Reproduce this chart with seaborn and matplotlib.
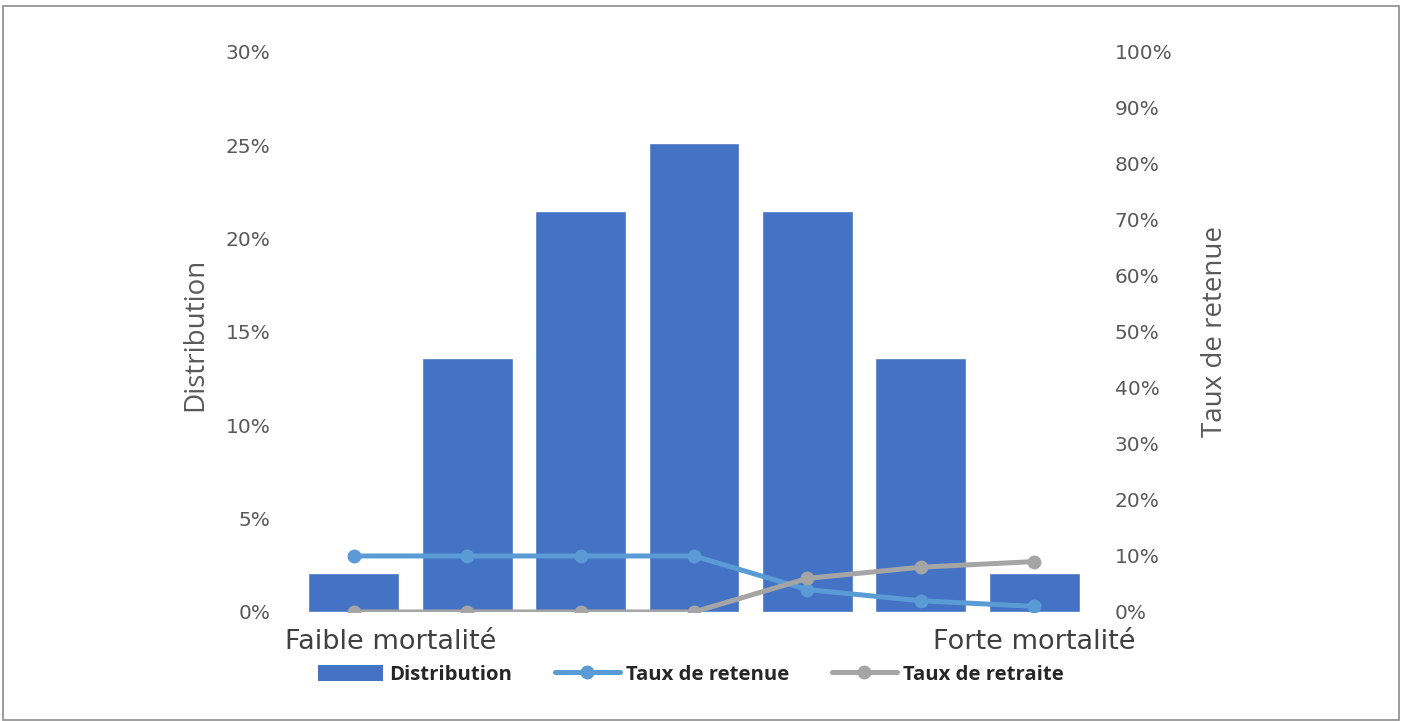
import matplotlib
matplotlib.use("Agg")
import matplotlib.pyplot as plt
import matplotlib.transforms as mtransforms
from matplotlib.patches import Rectangle, Patch
from matplotlib.lines import Line2D
from matplotlib.ticker import FuncFormatter, MultipleLocator
import seaborn as sns
import pandas as pd

# Data
categories = ["C1", "C2", "C3", "C4", "C5", "C6", "C7"]
tick_labels = ["Faible mortalité", "", "", "", "", "", "Forte mortalité"]
distribution = [2.1, 13.6, 21.5, 25.1, 21.5, 13.6, 2.1]      # % (left axis)
taux_retenue = [10, 10, 10, 10, 4, 2, 1]                      # % (right axis)
taux_retraite = [0, 0, 0, 0, 6, 8, 9]                         # % (right axis)

BAR_C = "#4472C4"
BLUE_C = "#5B9BD5"
GREY_C = "#A5A5A5"
TXT_C = "#595959"
LW = 3.6
MS = 10

sns.set_theme(style="white")
plt.rcParams["font.family"] = ["Open Sans", "DejaVu Sans"]

fig = plt.figure(figsize=(14.03, 7.21), dpi=100)
ax = fig.add_axes([0.2117, 0.1512, 0.5659, 0.7767])

df = pd.DataFrame({"cat": categories, "dist": distribution,
                   "ret": taux_retenue, "retr": taux_retraite})
df["pos"] = range(len(df))

sns.barplot(data=df, x="cat", y="dist", color=BAR_C, saturation=1,
            width=0.8, ax=ax, zorder=1)
ax.set_ylim(0, 30)
ax.set_xlim(-0.5, len(categories) - 0.5)
ax.yaxis.set_major_locator(MultipleLocator(5))
ax.yaxis.set_major_formatter(FuncFormatter(lambda v, p: f"{v:.0f}%"))
ax.set_xticks(range(len(categories)))
ax.set_xticklabels(tick_labels, fontsize=19.5, color="#404040",
                   family=["DejaVu Sans"])
ax.set_xlabel("")
ax.set_ylabel("Distribution", fontsize=20, color=TXT_C)
ax.yaxis.set_label_coords(-0.111, 0.495)
ax.tick_params(axis="y", labelsize=14.5, labelcolor=TXT_C, length=0, pad=19)
ax.tick_params(axis="x", length=0, pad=12)
for lab in ax.get_yticklabels():
    lab.set_family(["DejaVu Sans"])
for s in ax.spines.values():
    s.set_visible(False)

# shift the first category label to the right
lbl0 = ax.get_xticklabels()[0]
lbl0.set_transform(lbl0.get_transform() +
                   mtransforms.ScaledTranslation(0.37, 0, fig.dpi_scale_trans))

ax2 = ax.twinx()
sns.lineplot(data=df, x="pos", y="ret", color=BLUE_C, lw=LW, marker="o",
             markersize=MS, markeredgewidth=0, ax=ax2, zorder=3)
sns.lineplot(data=df, x="pos", y="retr", color=GREY_C, lw=LW, marker="o",
             markersize=MS, markeredgewidth=0, ax=ax2, zorder=4)
ax2.set_ylim(0, 100)
ax2.set_xlim(-0.5, len(categories) - 0.5)
ax2.yaxis.set_major_locator(MultipleLocator(10))
ax2.yaxis.set_major_formatter(FuncFormatter(lambda v, p: f"{v:.0f}%"))
ax2.set_ylabel("Taux de retenue", fontsize=20, color=TXT_C)
ax2.yaxis.set_label_coords(1.139, 0.5)
ax2.tick_params(axis="y", labelsize=14.5, labelcolor=TXT_C, length=0, pad=17)
for lab in ax2.get_yticklabels():
    lab.set_family(["DejaVu Sans"])
ax2.set_xlabel("")
ax2.grid(False)
ax.grid(False)
for s in ax2.spines.values():
    s.set_visible(False)

handles = [
    Patch(facecolor=BAR_C, edgecolor="none", label="Distribution"),
    Line2D([], [], color=BLUE_C, lw=LW, marker="o", markersize=MS,
           markeredgewidth=0, label="Taux de retenue"),
    Line2D([], [], color=GREY_C, lw=LW, marker="o", markersize=MS,
           markeredgewidth=0, label="Taux de retraite"),
]
fig.legend(handles=handles, loc="center", bbox_to_anchor=(0.4925, 0.064),
           ncol=3, frameon=False, handlelength=3.2, handleheight=0.8,
           handletextpad=0.3, columnspacing=2.1, labelcolor="#262626",
           prop={"weight": "bold", "size": 14.6})

# outer frame
fig.patches.append(Rectangle((0.002, 0.002), 0.995, 0.99, transform=fig.transFigure,
                             fill=False, edgecolor="#8C8C8C", lw=1.2))

fig.savefig("out.png", dpi=100)
